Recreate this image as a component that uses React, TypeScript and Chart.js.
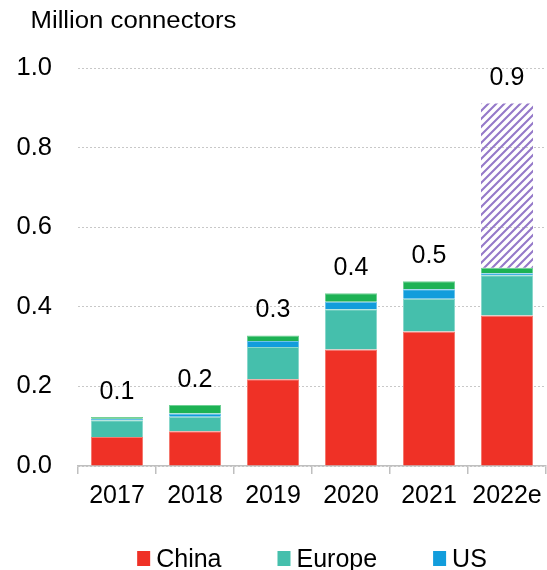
import React, { useEffect, useRef } from "react";
import { Chart, registerables } from "chart.js";

Chart.register(...registerables);

// ---- data ----
const categories = ["2017", "2018", "2019", "2020", "2021", "2022e"];
const china = [0.073, 0.087, 0.218, 0.293, 0.338, 0.378];
const europe = [0.042, 0.037, 0.081, 0.101, 0.082, 0.101];
const us = [0.004, 0.008, 0.015, 0.019, 0.024, 0.005];
const restOfWorld = [0.004, 0.021, 0.014, 0.021, 0.02, 0.014];
const forecast = [0, 0, 0, 0, 0, 0.413];
const yTickValues = [0, 0.2, 0.4, 0.6, 0.8, 1.0];
const titleText = "Million connectors";
const legendLabels = ["China", "Europe", "US"];

const FONT = '"Liberation Sans", Arial, sans-serif';

function makeHatch(): CanvasPattern | string {
  const c = document.createElement("canvas");
  const n = 8;
  c.width = n;
  c.height = n;
  const g = c.getContext("2d");
  if (!g) return "#9a7fcc";
  g.strokeStyle = "#9579c9";
  g.lineWidth = 2.1;
  g.lineCap = "square";
  g.beginPath();
  g.moveTo(-2, n + 2);
  g.lineTo(n + 2, -2);
  g.moveTo(-2, 2);
  g.lineTo(2, -2);
  g.moveTo(n - 2, n + 2);
  g.lineTo(n + 2, n - 2);
  g.stroke();
  const p = g.createPattern(c, "repeat");
  return p || "#9a7fcc";
}

const overlayPlugin = {
  id: "overlay",
  afterDatasetsDraw(chart: any) {
    const ctx = chart.ctx;
    const xs = chart.scales.x;
    const ys = chart.scales.y;
    ctx.save();
    ctx.fillStyle = "#000";
    ctx.font = `25px ${FONT}`;
    ctx.textAlign = "center";
    ctx.textBaseline = "middle";
    categories.forEach((_, i) => {
      const total = china[i] + europe[i] + us[i] + restOfWorld[i] + forecast[i];
      const x = xs.getPixelForValue(i);
      const y = ys.getPixelForValue(total) - 25;
      ctx.fillText(total.toFixed(1), x, y);
    });
    ctx.restore();
  },
  afterDraw(chart: any) {
    const ctx = chart.ctx;
    const area = chart.chartArea;
    ctx.save();
    // title
    ctx.fillStyle = "#000";
    ctx.font = `23.5px ${FONT}`;
    ctx.textAlign = "left";
    ctx.textBaseline = "alphabetic";
    ctx.translate(30.5, 28);
    ctx.scale(1.095, 1);
    ctx.fillText(titleText, 0, 0);
    ctx.setTransform(1, 0, 0, 1, 0, 0);

    // legend
    ctx.font = `25px ${FONT}`;
    const boxW = 13;
    const boxH = 15;
    const gapBox = 6;
    const gapItem = 56;
    const items = legendLabels.map((label) => {
      const ds = chart.data.datasets.find((d: any) => d.label === label);
      return { label, color: ds ? ds.backgroundColor : "#000", w: boxW + gapBox + ctx.measureText(label).width };
    });
    const total = items.reduce((s, it) => s + it.w, 0) + gapItem * (items.length - 1);
    let x = (area.left + area.right) / 2 - total / 2;
    const baseline = 567;
    items.forEach((it) => {
      ctx.fillStyle = it.color;
      ctx.fillRect(x, 551, boxW, boxH);
      ctx.fillStyle = "#000";
      ctx.fillText(it.label, x + boxW + gapBox, baseline);
      x += it.w + gapItem;
    });
    ctx.restore();
  },
};

export default function App() {
  const ref = useRef<HTMLCanvasElement | null>(null);

  useEffect(() => {
    if (!ref.current) return;
    const hatch = makeHatch();
    const common = { stack: "s", borderWidth: 1, borderSkipped: "start" as const };
    const chart = new Chart(ref.current, {
      type: "bar",
      data: {
        labels: categories,
        datasets: [
          { label: "China", data: china, backgroundColor: "#EF3126", borderColor: "#F47A70", ...common },
          { label: "Europe", data: europe, backgroundColor: "#45BFAC", borderColor: "#8AD8CC", ...common },
          { label: "US", data: us, backgroundColor: "#129DDC", borderColor: "#6CC3EA", ...common },
          { label: "Rest of world", data: restOfWorld, backgroundColor: "#1DB254", borderColor: "#6FD095", ...common },
          { label: "2022e forecast", data: forecast, backgroundColor: hatch as any, borderWidth: 0, stack: "s" },
        ],
      },
      options: {
        responsive: false,
        animation: false,
        devicePixelRatio: 1,
        datasets: { bar: { categoryPercentage: 1, barPercentage: 0.667 } },
        layout: { padding: { top: 68, left: 0, right: 1, bottom: 0 } },
        plugins: {
          legend: { display: false },
          title: { display: false },
          tooltip: { enabled: false },
        },
        scales: {
          x: {
            stacked: true,
            offset: true,
            grid: {
              offset: true,
              drawOnChartArea: false,
              drawTicks: true,
              tickLength: 8,
              color: "#bfbfbf",
              lineWidth: 1.5,
            },
            border: { display: true, color: "#bfbfbf", width: 1.5 },
            ticks: {
              color: "#000",
              font: { family: FONT, size: 25, lineHeight: 1.4 },
              padding: 5,
              maxRotation: 0,
              autoSkip: false,
            },
            afterFit: (s: any) => {
              s.height = 104;
            },
          },
          y: {
            stacked: true,
            min: 0,
            max: 1,
            afterBuildTicks: (s: any) => {
              s.ticks = yTickValues.map((v) => ({ value: v }));
            },
            grid: { color: "#c8c8c8", lineWidth: 1, drawTicks: false },
            border: { display: false, dash: [2, 2] },
            ticks: {
              color: "#000",
              font: { family: FONT, size: 25.5 },
              padding: 26,
              callback: (v: any) => Number(v).toFixed(1),
            },
            afterFit: (s: any) => {
              s.width = 78;
            },
          },
        },
      },
      plugins: [overlayPlugin],
    });
    return () => chart.destroy();
  }, []);

  return (
    <div style={{ position: "fixed", left: 0, top: 0, width: 547, height: 570, overflow: "hidden", background: "#fff" }}>
      <canvas ref={ref} width={547} height={570} style={{ display: "block", width: 547, height: 570 }} />
    </div>
  );
}
